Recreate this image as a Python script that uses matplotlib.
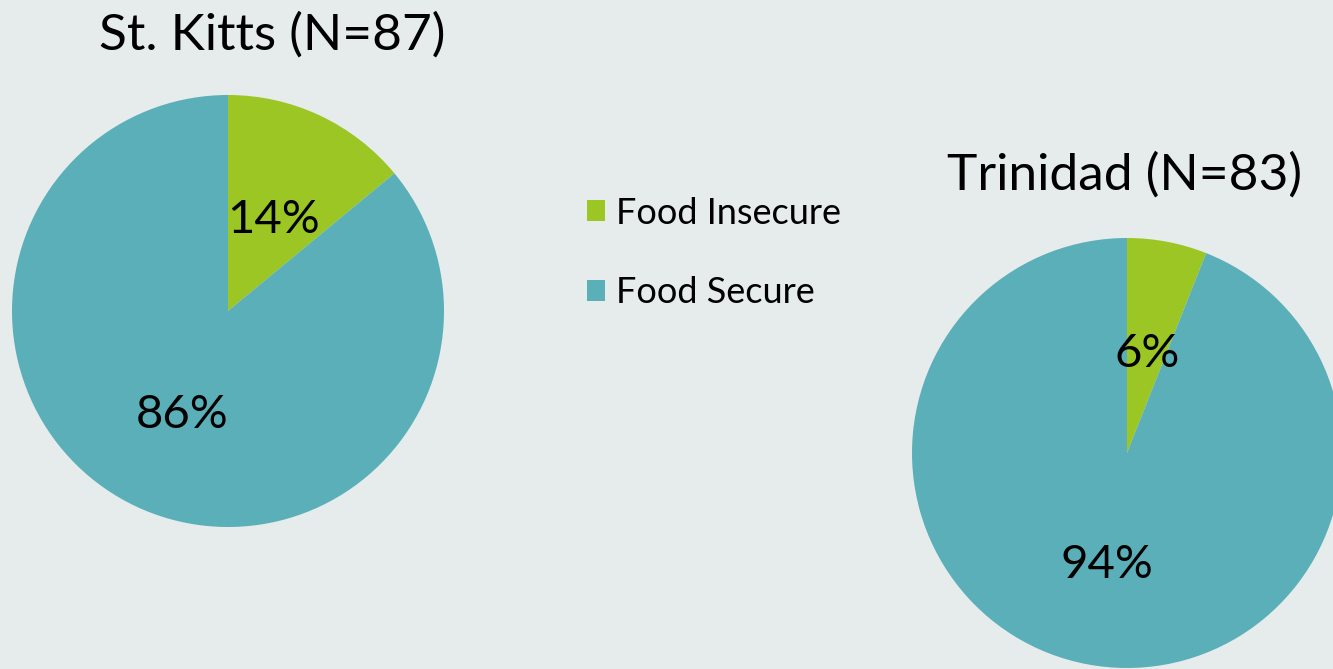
import matplotlib
matplotlib.use("Agg")
import matplotlib.pyplot as plt
from matplotlib.patches import Patch

plt.rcParams['font.family'] = ['Lato', 'DejaVu Sans']

categories = ["Food Insecure", "Food Secure"]
colors = ["#9BC623", "#5AAFB9"]
regions = ["St. Kitts (N=87)", "Trinidad (N=83)"]
values_st_kitts = [14, 86]
values_trinidad = [6, 94]

W, H = 1333, 669
fig = plt.figure(figsize=(W / 100, H / 100), dpi=100)
fig.patch.set_facecolor("#E6ECEC")


def add_pie(cx, cy, r, values, title, tx, ty):
    ax = fig.add_axes([(cx - r) / W, (H - cy - r) / H, 2 * r / W, 2 * r / H])
    _, _, pct = ax.pie(values, colors=colors, startangle=90, counterclock=False,
                       radius=1, autopct=lambda p: f"{p:.0f}%", pctdistance=0.5,
                       wedgeprops=dict(linewidth=0),
                       textprops=dict(fontsize=34, color="black"))
    for t in pct:
        x, y = t.get_position()
        t.set_position((x, y - 0.03))
    ax.set_xlim(-1, 1)
    ax.set_ylim(-1, 1)
    ax.set_aspect("equal")
    ax.axis("off")
    fig.text(tx / W, 1 - ty / H, title, ha="center", va="center",
             fontsize=37, color="black")


add_pie(228, 311, 216, values_st_kitts, regions[0], 272, 35)
add_pie(1127, 453, 215, values_trinidad, regions[1], 1125, 175)

handles = [Patch(facecolor=c, edgecolor="none") for c in colors]
fig.legend(handles, categories, loc="center left",
           bbox_to_anchor=(587 / W, 1 - 253 / H), frameon=False,
           fontsize=26, handlelength=0.5, handleheight=0.5,
           handletextpad=0.3, labelspacing=1.3,
           borderpad=0, borderaxespad=0)

fig.savefig("out.png", dpi=100, facecolor=fig.get_facecolor())
